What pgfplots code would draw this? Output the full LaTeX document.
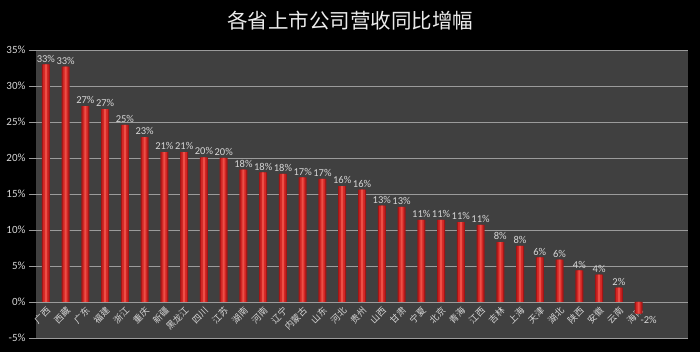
\documentclass[border=0pt]{standalone}
\usepackage{pgfplots}
\pgfplotsset{compat=1.18}
\usepackage{pgfplotstable}
\usepackage{fontspec}
\setmainfont{Carlito}
\newfontfamily\cjk{Noto Sans CJK SC}
\definecolor{bgplot}{RGB}{64,64,64}
\definecolor{gridc}{RGB}{155,155,155}
\definecolor{txt}{RGB}{215,215,215}
\definecolor{bardark}{RGB}{160,22,22}
\definecolor{barmid}{RGB}{210,38,36}
\definecolor{barlight}{RGB}{236,78,70}

\pgfplotstableread{
x y
0 33.0
1 32.7
2 27.2
3 26.8
4 24.6
5 22.9
6 20.8
7 20.8
8 20.1
9 20.0
10 18.4
11 18.0
12 17.8
13 17.3
14 17.1
15 16.1
16 15.6
17 13.4
18 13.2
19 11.4
20 11.4
21 11.1
22 10.7
23 8.3
24 7.8
25 6.2
26 5.9
27 4.4
28 3.8
29 2.0
30 -1.6
}\datatable

\begin{document}
\begin{tikzpicture}[x=1pt,y=1pt]
\useasboundingbox (0,0) rectangle (700,352);
\fill[black] (0,0) rectangle (700,352);
\node[text={rgb,255:red,235;green,235;blue,235}, font=\cjk\fontsize{20.5}{20.5}\selectfont] at (350,331) {各省上市公司营收同比增幅};
\begin{axis}[
  at={(36pt,14pt)}, anchor=south west,
  scale only axis, width=652pt, height=288pt,
  xmin=-0.5, xmax=32.5, ymin=-5, ymax=35,
  axis background/.style={fill=bgplot},
  axis x line=middle, axis y line=left,
  hide obscured x ticks=false, hide obscured y ticks=false,
  x axis line style={-, draw=gridc, line width=0.6pt},
  y axis line style={draw=none},
  ybar, bar shift=0pt,
  xtick={0,...,30},
  xticklabels={广西,西藏,广东,福建,浙江,重庆,新疆,黑龙江,四川,江苏,湖南,河南,辽宁,内蒙古,山东,河北,贵州,山西,甘肃,宁夏,北京,青海,江西,吉林,上海,天津,湖北,陕西,安徽,云南,海南},
  xticklabel style={font=\cjk\fontsize{9}{9}\selectfont, text=txt, rotate=45, anchor=east, xshift=3pt, yshift=-2pt, inner sep=1pt},
  major x tick style={draw=none},
  extra x ticks={-0.5,0.5,...,32.5},
  extra x tick labels={},
  extra x tick style={major tick length=5pt, tick align=outside, tick style={draw=gridc, line width=0.6pt}},
  ytick={-5,0,...,35},
  yticklabel={\pgfmathprintnumber{\tick}\%},
  /pgf/number format/assume math mode=true,
  yticklabel style={font=\fontsize{11}{11}\selectfont, text=txt},
  major y tick style={draw=gridc, line width=0.6pt},
  ymajorgrids, major grid style={draw=gridc, line width=0.6pt},
  tick align=outside, major tick length=7pt,
  clip=false,
]
\addplot[draw=none, fill=bardark, bar width=8pt,
  visualization depends on={\thisrow{y} \as \yv},
  nodes near coords={\pgfmathprintnumber[fixed,precision=0]{\pgfplotspointmeta}\%},
  every node near coord/.append style={font=\fontsize{10.5}{10.5}\selectfont, text=txt, inner sep=2pt, xshift={10*(\yv<0)}, yshift={-1*(\yv<0)}},
  ] table[x=x,y=y]{\datatable};
\addplot[draw=none, fill=barmid, bar width=5.5pt] table[x=x,y=y]{\datatable};
\addplot[draw=none, fill=barlight, bar width=2pt] table[x=x,y=y]{\datatable};
\end{axis}
\end{tikzpicture}
\end{document}
